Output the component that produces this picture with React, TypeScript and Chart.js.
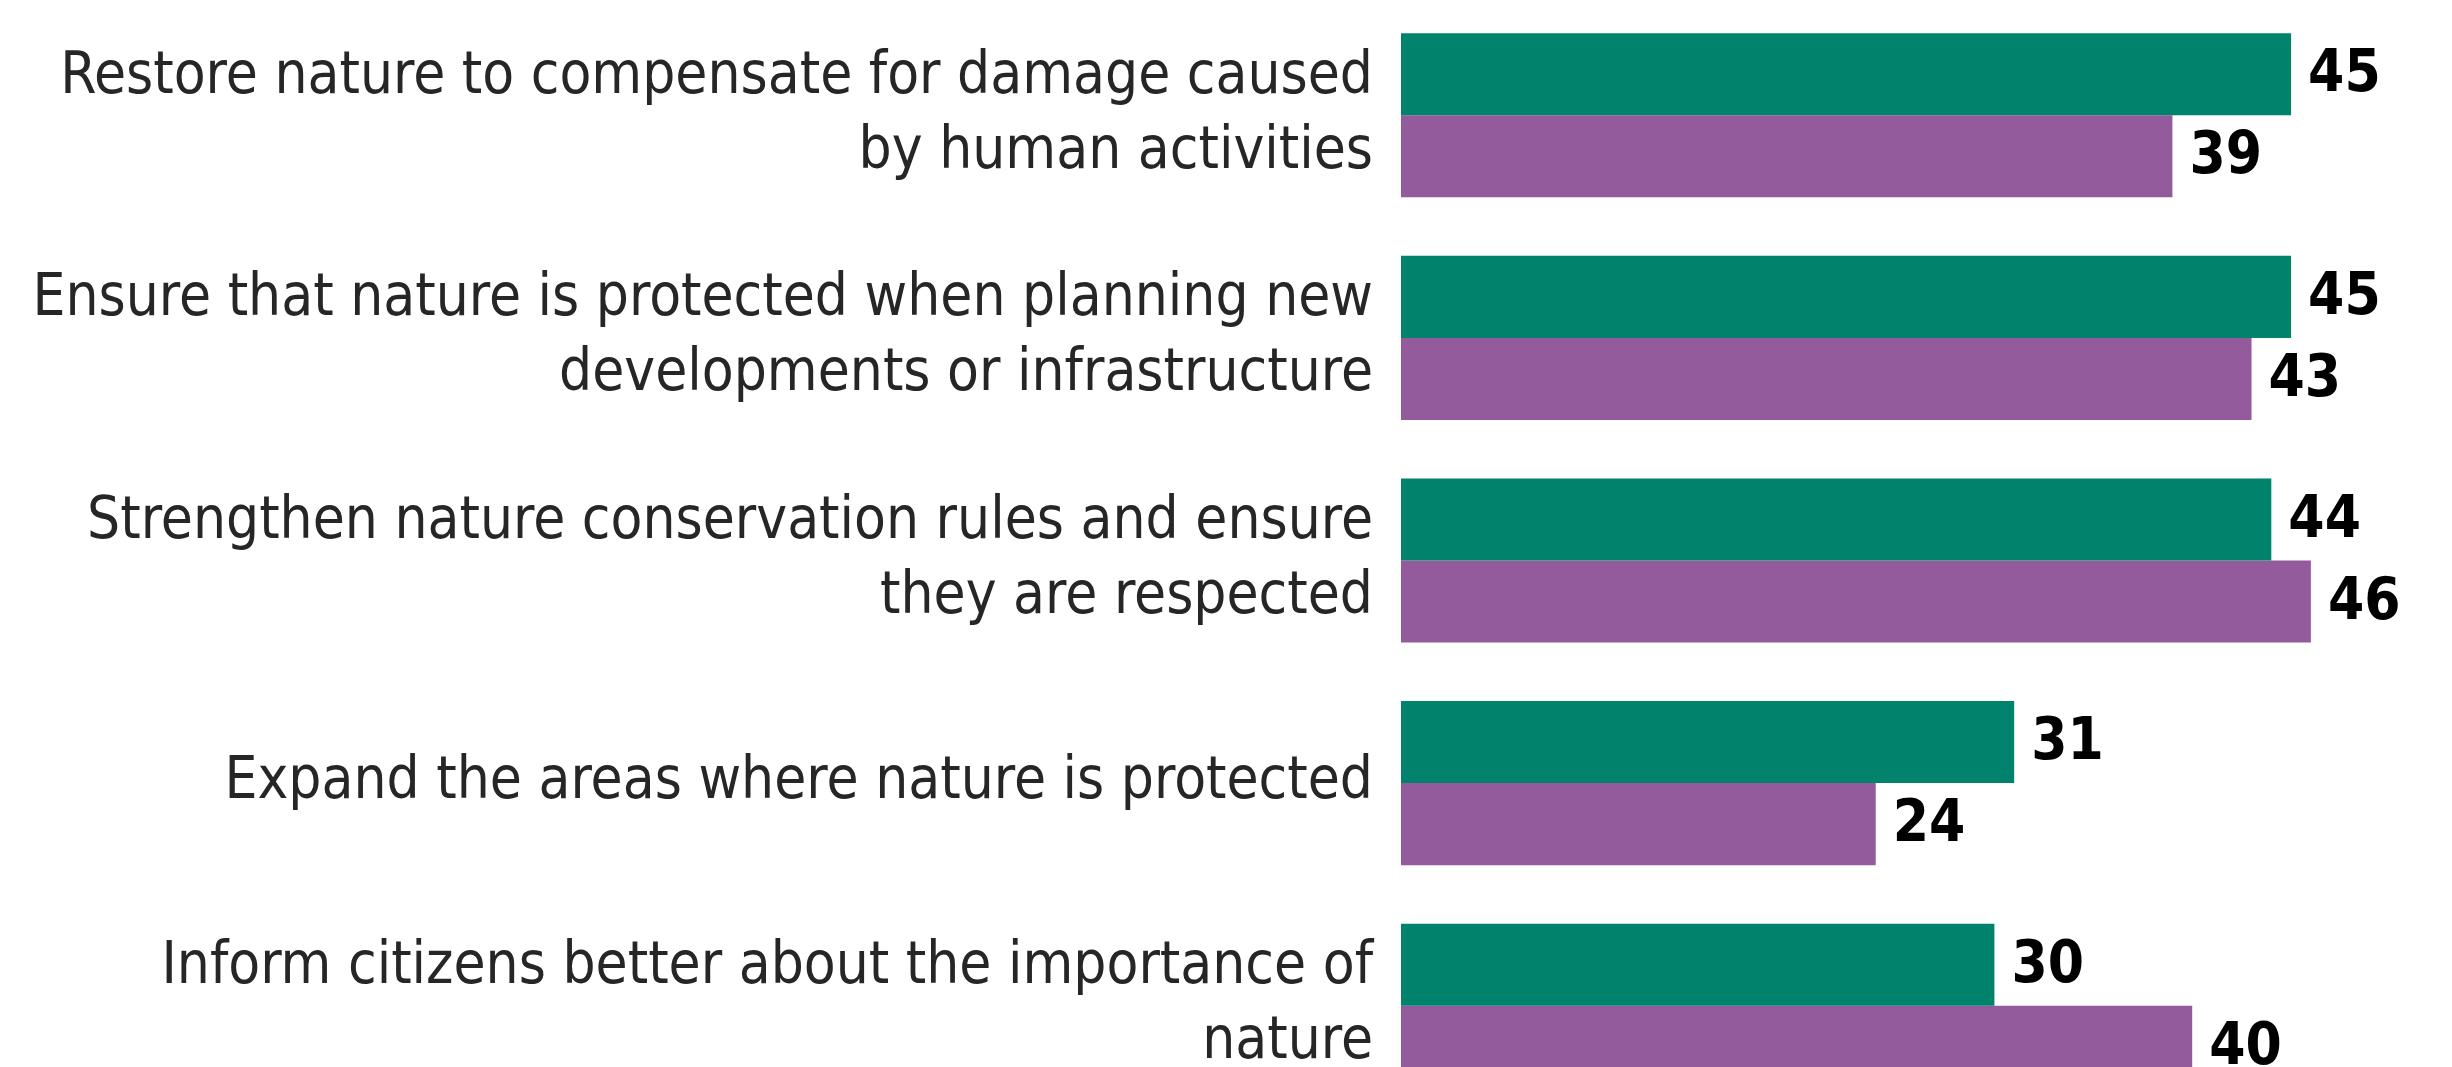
import React, { useEffect, useRef } from "react";
import { Chart, registerables } from "chart.js";

Chart.register(...registerables);

const categories: (string | string[])[] = [
  ["Restore nature to compensate for damage caused", "by human activities"],
  ["Ensure that nature is protected when planning new", "developments or infrastructure"],
  ["Strengthen nature conservation rules and ensure", "they are respected"],
  "Expand the areas where nature is protected",
  ["Inform citizens better about the importance of", "nature"],
];

const seriesGreen: number[] = [45, 45, 44, 31, 30];
const seriesPurple: number[] = [39, 43, 46, 24, 40];

const GREEN = "#00826C";
const PURPLE = "#935B9C";
const FONT = "'DejaVu Sans Condensed', 'DejaVu Sans', sans-serif";

const valueLabels = {
  id: "valueLabels",
  afterDatasetsDraw(chart: any) {
    const ctx = chart.ctx;
    ctx.save();
    ctx.font = `bold 58px ${FONT}`;
    ctx.fillStyle = "#000000";
    ctx.textAlign = "left";
    ctx.textBaseline = "middle";
    chart.data.datasets.forEach((ds: any, di: number) => {
      const meta = chart.getDatasetMeta(di);
      meta.data.forEach((bar: any, i: number) => {
        ctx.fillText(String(ds.data[i]), bar.x + 17, bar.y + 2);
      });
    });
    ctx.restore();
  },
};

export default function App() {
  const ref = useRef<HTMLCanvasElement | null>(null);

  useEffect(() => {
    if (!ref.current) return;
    const chart = new Chart(ref.current, {
      type: "bar",
      data: {
        labels: categories,
        datasets: [
          {
            label: "Series A",
            data: seriesGreen,
            backgroundColor: GREEN,
            borderWidth: 0,
            categoryPercentage: 0.737,
            barPercentage: 1,
          },
          {
            label: "Series B",
            data: seriesPurple,
            backgroundColor: PURPLE,
            borderWidth: 0,
            categoryPercentage: 0.737,
            barPercentage: 1,
          },
        ],
      },
      options: {
        indexAxis: "y",
        responsive: false,
        animation: false,
        devicePixelRatio: 1,
        layout: { padding: { top: 4, bottom: 1, left: 0, right: 62 } },
        plugins: {
          legend: { display: false },
          tooltip: { enabled: false },
          title: { display: false },
        },
        scales: {
          x: {
            display: false,
            min: 0,
            max: 50,
          },
          y: {
            afterFit: (scale: any) => {
              scale.width = 1401;
              scale.paddingTop = 0;
              scale.paddingBottom = 0;
            },
            grid: { display: false, drawTicks: false },
            border: { display: false },
            ticks: {
              padding: 28,
              labelOffset: 0,
              color: "#262626",
              font: { family: FONT, size: 58, lineHeight: 1.293 },
            },
          },
        },
      },
      plugins: [valueLabels],
    });
    return () => chart.destroy();
  }, []);

  return (
    <div style={{ position: "absolute", left: 0, top: 0, width: 2452, height: 1118 }}>
      <canvas ref={ref} width={2452} height={1118} style={{ display: "block" }} />
    </div>
  );
}
